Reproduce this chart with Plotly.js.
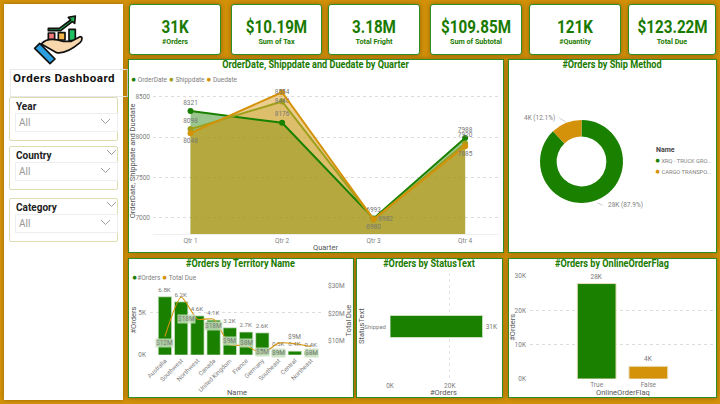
<!DOCTYPE html>
<html><head><meta charset="utf-8">
<script src="https://cdn.plot.ly/plotly-3.0.1.min.js"></script>
<style>
html,body{margin:0;padding:0;background:#D4920A;width:720px;height:404px;overflow:hidden;font-family:Roboto,sans-serif}
.p{position:absolute;background:#fff;box-sizing:border-box;border:1.5px solid #2F8F22;box-shadow:0 0 5px rgba(90,60,0,.55)}
.abs{position:absolute;box-sizing:border-box}
.card{border-radius:3px;text-align:center;color:#1A7A00}
.card b{position:absolute;left:0;right:0;top:11.5px;font:700 19px/20px Roboto,sans-serif;transform:scaleX(.8)}
.card span{position:absolute;left:0;right:0;top:31px;font:700 8px/11px Roboto,sans-serif;transform:scaleX(.9)}
.sl{border:1.5px solid #DDDDB0;background:#fff;border-radius:2px}
.sl b{position:absolute;left:6px;top:2px;font:700 10px/14px Roboto,sans-serif;color:#222}
.dd{position:absolute;left:5px;width:98px;top:15px;height:17px;border:1px solid #eee;font:10px/18px Roboto,sans-serif;color:#999;padding-left:3px}
.chev{position:absolute;width:9px;height:5px}
</style></head><body>
<div class="abs" style="left:4px;top:4px;width:119px;height:396px;background:#fff;box-shadow:0 0 4px rgba(90,60,0,.5)"></div>
<svg class="abs" style="left:0;top:0" width="120" height="70" viewBox="0 0 360 210">
<g stroke="#111" stroke-width="5" stroke-linejoin="round">
<path d="M145,85 L178,85 L212,60 L205,52 L226,48 L224,70 L217,65 L182,92 L145,92 Z" fill="#22B050"/>
<rect x="145" y="99" width="19" height="20" fill="#F0787A"/>
<rect x="175" y="98" width="20" height="22" fill="#F2B84B"/>
<rect x="207" y="88" width="19" height="34" fill="#22C060"/>
<path d="M124,132 C140,112 165,116 190,124 L214,124 L240,110 C248,110 248,120 240,128 C220,145 195,162 170,158 Z" fill="#FAD8AE"/>
<path d="M104,145 L119,130 L165,177 L150,191 Z" fill="#2C9FE0"/>
</g></svg>
<div class="abs" style="left:10px;top:69px;width:118px;height:28px;border:1px solid #e8e8e8;font:700 11.6px/16px Roboto,sans-serif;letter-spacing:.5px;padding:0 0 0 2px;color:#111">Orders Dashboard</div>
<div id="slicers"></div><div id="cards"></div>
<div id="c_line"></div><div id="c_ship"></div><div id="c_terr"></div><div id="c_stat"></div><div id="c_flag"></div>
<script>
// ---------- KPI and slicer text ----------
const kpiValues=["31K","$10.19M","3.18M","$109.85M","121K","$123.22M"];
const kpiLabels=["#Orders","Sum of Tax","Total Fright","Sum of Subtotal","#Quantity","Total Due"];
const slicerNames=["Year","Country","Category"];
// ---------- Quarter chart ----------
const quarters=["Qtr 1","Qtr 2","Qtr 3","Qtr 4"];
const orderDate=[8321,8176,6993,7988];
const shippdate=[8098,8440,6980,7920];
const duedate=[8048,8554,6982,7885];
// ---------- Ship method ----------
const shipMethods=["XRQ - TRUCK GROUND","CARGO TRANSPORT 5"];
const shipOrders=[27.7,3.8];
const shipLabels=["28K (87.9%)","4K (12.1%)"];
// ---------- Territory ----------
const territories=["Australia","Southwest","Northwest","Canada","United Kingdom","France","Germany","Southeast","Central","Northeast"];
const territoryOrders=[6.85,6.25,4.6,4.1,3.2,2.7,2.6,0.5,0.45,0.4];
const territoryOrderLabels=["6.8K","6.2K","4.6K","4.1K","3.2K","2.7K","2.6K","0.5K","0.4K","0.4K"];
const territoryDue=[11.7,26,18,18,8.8,8.4,5.5,9.3,9.1,8.1];
const territoryDueLabels=["$12M","$18M","","$18M","$9M","$8M","$5M","$9M","$9M","$8M"];
// ---------- Status and flag ----------
const statusNames=["Shipped"];
const statusOrders=[31];
const statusLabels=["31K"];
const flagNames=["True","False"];
const flagOrders=[27.8,3.7];
const flagLabels=["28K","4K"];

const GREEN="#1A8000",OLIVE="#9EA01C",ORANGE="#D4920A",TITLE="#1A7A00",GRAY="#808080",DARK="#555";
const FONT="Roboto, sans-serif";
const cardX=[[128.5,92],[231,91],[328,92],[430,92],[529,92],[628,88]];
document.getElementById('cards').innerHTML=kpiValues.map((v,i)=>
 `<div class="abs p card" style="left:${cardX[i][0]}px;top:4px;width:${cardX[i][1]}px;height:50.5px"><b>${v}</b><span>${kpiLabels[i]}</span></div>`).join('');
const chev=(x,y)=>`<svg class="chev" style="left:${x}px;top:${y}px" viewBox="0 0 9 5"><path d="M0,0 L4.5,4.5 L9,0" fill="none" stroke="#888" stroke-width=".8"/></svg>`;
document.getElementById('slicers').innerHTML=slicerNames.map((n,i)=>
 `<div class="abs sl" style="left:9px;top:${[97,146,198][i]}px;width:109px;height:44px"><b>${n}</b><div class="dd">All</div>${chev(91,21)}${i?chev(97,3):''}</div>`).join('');

function place(id,x,y,w,h){const d=document.getElementById(id);d.className='abs p';d.style.cssText=`left:${x}px;top:${y}px;width:${w}px;height:${h}px`;return d;}
function draw(id,box,plot,titleText,traces,extra){
 const [x,y,w,h]=box;const d=place(id,x,y,w,h);const iw=w-3,ih=h-3,ox=x+1.5,oy=y+1.5;
 const layout=Object.assign({width:iw,height:ih,paper_bgcolor:'#fff',plot_bgcolor:'rgba(0,0,0,0)',showlegend:false,
  font:{family:FONT,size:7,color:GRAY},
  margin:{l:plot[0]-ox,t:plot[1]-oy,r:Math.max(0,ox+iw-plot[2]),b:oy+ih-plot[3],pad:0},
  title:{text:titleText,x:.5,xanchor:'center',y:1-(4.5/ih),yanchor:'middle',yref:'container',font:{family:FONT,size:11,weight:700,color:TITLE}}},extra);
 Plotly.newPlot(d,traces,layout,{staticPlot:true,displayModeBar:false}).then(()=>{
  const t=d.querySelector('.gtitle');
  if(t){const cx=iw/2;t.setAttribute('transform',`translate(${cx},0) scale(.83,1) translate(${-cx},0)`);}
 });
}
const titleFont={family:FONT,size:7.5,color:DARK};
// axis titles placed at exact distances from the plot edge
const xTitle=(t,dy)=>({xref:'paper',yref:'paper',x:.5,y:0,yshift:-dy,xanchor:'center',yanchor:'middle',showarrow:false,text:t,font:titleFont});
const yTitle=(t,side,dx,dy)=>({xref:'paper',yref:'paper',x:side,y:.5,xshift:dx,yshift:dy||0,textangle:-90,xanchor:'center',yanchor:'middle',showarrow:false,text:t,font:titleFont});
const dot=c=>`<span style="color:${c};font-size:8.5px">●</span>`;

// Quarter chart
const posOrder=['top center','top center','top center','top center'];
const posShip=['top center','middle center','bottom center','top center'];
const posDue=['bottom center','middle center','middle right','bottom center'];
const areaFill=(ys,fc)=>({type:'scatter',mode:'none',x:quarters,y:ys,fill:'tozeroy',fillcolor:fc});
const areaLine=(name,ys,c,pos)=>({type:'scatter',mode:'lines+markers+text',name,x:quarters,y:ys,text:ys.map(String),textposition:pos,
 textfont:{size:6.5,color:'#777'},line:{color:c,width:2},marker:{color:c,size:6},cliponaxis:false});
draw('c_line',[128,59,376,194],[153,84,500,235],"OrderDate, Shippdate and Duedate by Quarter",[
 areaFill(orderDate,'rgba(26,128,0,.45)'),
 areaFill(shippdate,'rgba(158,160,28,.3)'),
 areaFill(duedate,'rgba(212,146,10,.45)'),
 areaLine('OrderDate',orderDate,GREEN,posOrder),
 areaLine('Shippdate',shippdate,OLIVE,posShip),
 areaLine('Duedate',duedate,ORANGE,posDue)],{
 xaxis:{type:'category',range:[-0.41,3.37],showgrid:false,zeroline:false,showline:true,linecolor:'#eee',tickfont:{size:6.5,color:GRAY},ticks:''},
 yaxis:{range:[6800,8656],tickvals:[7000,7500,8000,8500],showgrid:true,griddash:'dot',gridcolor:'#ddd',zeroline:false,tickfont:{size:6.5,color:GRAY},ticklabelstandoff:2},
 annotations:[xTitle('Quarter',13),yTitle('OrderDate, Shippdate and Duedate',0,-20.7,-2),
  {xref:'paper',yref:'paper',x:-0.068,y:1.035,xanchor:'left',yanchor:'middle',showarrow:false,font:{size:6.5,color:GRAY},
  text:`${dot(GREEN)} OrderDate ${dot(OLIVE)} Shippdate ${dot(ORANGE)} Duedate`}]
});

// Ship method doughnut
draw('c_ship',[508,59,209,194],[540,120,624,204],"#Orders by Ship Method",[
 {type:'pie',labels:shipMethods,values:shipOrders,hole:.6,sort:false,direction:'clockwise',rotation:0,textinfo:'none',marker:{colors:[GREEN,ORANGE]},domain:{x:[0,1],y:[0,1]}}],{
 annotations:[
  {xref:'paper',yref:'paper',x:.31,y:.976,ax:-8,ay:-5,showarrow:true,arrowhead:0,arrowwidth:.6,arrowcolor:'#aaa',text:''},
  {xref:'paper',yref:'paper',x:.69,y:0,ax:7,ay:3,showarrow:true,arrowhead:0,arrowwidth:.6,arrowcolor:'#aaa',text:''},
  {xref:'paper',yref:'paper',x:.2,y:1.024,xanchor:'right',yanchor:'middle',showarrow:false,text:shipLabels[1],font:{size:6.5,color:GRAY}},
  {xref:'paper',yref:'paper',x:.8,y:-.03,xanchor:'left',yanchor:'middle',showarrow:false,text:shipLabels[0],font:{size:6.5,color:GRAY}},
  {xref:'paper',yref:'paper',x:1.369,y:.634,xanchor:'left',yanchor:'middle',showarrow:false,text:'<b>Name</b>',font:{size:7,color:'#444'}},
  {xref:'paper',yref:'paper',x:1.36,y:.52,xanchor:'left',yanchor:'middle',showarrow:false,text:`${dot(GREEN)} XRQ - TRUCK GRO...`,font:{size:5.7,color:GRAY}},
  {xref:'paper',yref:'paper',x:1.36,y:.385,xanchor:'left',yanchor:'middle',showarrow:false,text:`${dot(ORANGE)} CARGO TRANSPO...`,font:{size:5.7,color:GRAY}}
 ]
});

// Territory
const dueAnn=territories.map((t,i)=>{
 if(!territoryDueLabels[i])return null;
 const y=[9.3,18,0,15.5,10,9.5,6.2,5.9,11.6,5.6][i];
 const a={x:t,y,xref:'x',yref:'y2',text:territoryDueLabels[i],showarrow:false,font:{size:6.5,color:'#777'},yanchor:'middle'};
 if(i!==8){a.bgcolor='rgba(200,224,190,.85)';a.borderpad=0;}
 if(i===1){a.xshift=5;}
 return a;}).filter(Boolean);
draw('c_terr',[128,258,226,140],[150,286.7,325,356],"#Orders by Territory Name",[
 {type:'bar',name:'#Orders',x:territories,y:territoryOrders,text:territoryOrderLabels,textposition:'outside',textfont:{size:6.5,color:'#777'},
  marker:{color:GREEN,line:{color:'#CFE3C6',width:.7}},width:.82,cliponaxis:false},
 {type:'scatter',mode:'lines',name:'Total Due',x:territories,y:territoryDue,yaxis:'y2',line:{color:ORANGE,width:1.1,shape:'spline',smoothing:.6},cliponaxis:false}],{
 xaxis:{type:'category',range:[-0.92,9.8],tickangle:-45,showgrid:false,zeroline:false,tickfont:{size:6.2,color:GRAY}},
 yaxis:{range:[0,8.12],tickvals:[0,5],ticktext:['0K','5K'],griddash:'dot',gridcolor:'#ddd',zeroline:false,tickfont:{size:6.5,color:GRAY},ticklabelstandoff:3},
 yaxis2:{overlaying:'y',side:'right',range:[5,30],tickvals:[10,20,30],ticktext:['$10M','$20M','$30M'],showgrid:false,zeroline:false,tickfont:{size:6.5,color:GRAY},ticklabelstandoff:3},
 annotations:[xTitle('Name',37),yTitle('#Orders',0,-17),yTitle('Total Due',1,24),
  {xref:'paper',yref:'paper',x:-0.115,y:1.13,xanchor:'left',yanchor:'middle',showarrow:false,font:{size:6.5,color:GRAY},
  text:`${dot(GREEN)}#Orders ${dot(ORANGE)} Total Due`}].concat(dueAnn)
});

// Status
draw('c_stat',[356,258,147,140],[390.7,273,498,381],"#Orders by StatusText",[
 {type:'bar',orientation:'h',y:statusNames,x:statusOrders,text:statusLabels,textposition:'outside',textfont:{size:6.5,color:'#777'},
  marker:{color:GREEN,line:{color:'#CFE3C6',width:1}},width:.207,cliponaxis:false}],{
 xaxis:{range:[0,35.8],tickvals:[0,20],ticktext:['0K','20K'],griddash:'dot',gridcolor:'#e2e2e2',zeroline:false,tickfont:{size:6.5,color:GRAY}},
 yaxis:{type:'category',showgrid:false,zeroline:false,tickfont:{size:6,color:GRAY},ticklabelstandoff:3},
 annotations:[xTitle('#Orders',12),yTitle('StatusText',0,-28.5)]
});

// Flag
draw('c_flag',[508,258,209,140],[530,276.7,715.5,380],"#Orders by OnlineOrderFlag",[
 {type:'bar',x:flagNames,y:flagOrders,text:flagLabels,textposition:'outside',textfont:{size:6.5,color:'#777'},
  marker:{color:[GREEN,ORANGE],line:{color:'#E8E0C0',width:1}},width:.75,cliponaxis:false}],{
 xaxis:{type:'category',range:[-1.29,2.29],showgrid:false,zeroline:false,tickfont:{size:6.5,color:GRAY}},
 yaxis:{range:[0,30],tickvals:[0,10,20,30],ticktext:['0K','10K','20K','30K'],griddash:'dot',gridcolor:'#ddd',zeroline:false,tickfont:{size:6.5,color:GRAY},ticklabelstandoff:3},
 annotations:[xTitle('OnlineOrderFlag',13.5),yTitle('#Orders',0,-17.7)]
});
</script></body></html>
